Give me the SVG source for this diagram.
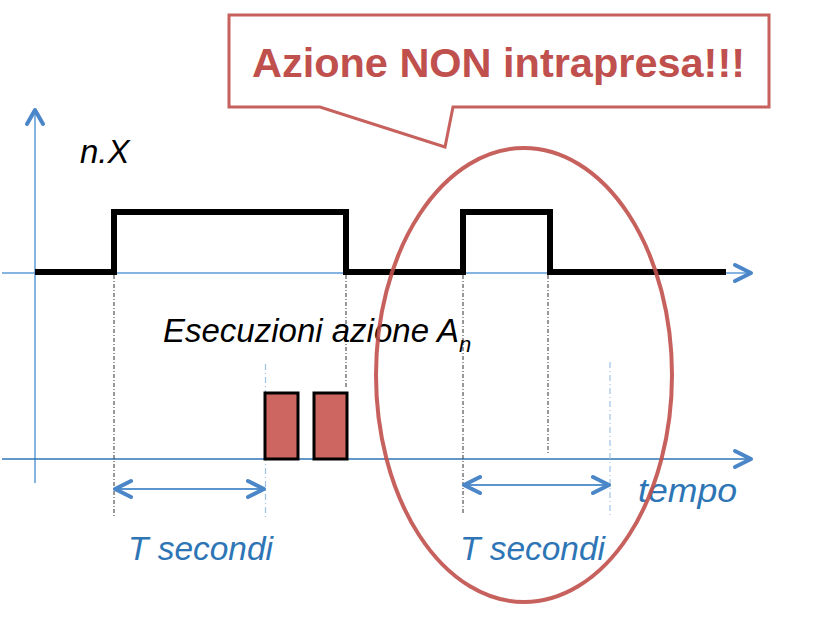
<svg xmlns="http://www.w3.org/2000/svg" width="819" height="630" viewBox="0 0 819 630">
<style>
.ax{fill:none;stroke:#5B9BD5;stroke-width:1.5}
.axd{fill:none;stroke:#2E75B6;stroke-width:1.5}
.chev{fill:none;stroke:#4A86C8;stroke-width:4;stroke-linecap:round;stroke-linejoin:round}
.dim{fill:none;stroke:#5B95CF;stroke-width:2}
.dot{fill:none;stroke:#333;stroke-width:1;stroke-dasharray:4 2 1 2}
.bdot{fill:none;stroke:#9DC3E6;stroke-width:1.2;stroke-dasharray:6 3 1 3}
.sig{fill:none;stroke:#000;stroke-width:6;stroke-linejoin:miter}
.box{fill:#CD6660;stroke:#000;stroke-width:3}
.it{font-family:"Liberation Sans",Arial,sans-serif;font-style:italic;font-size:33px}
.blue{fill:#2E75B6}
</style>
<rect width="819" height="630" fill="#fff"/>
<g id="axes">
<line class="ax" x1="35" y1="110" x2="35" y2="483"/>
<path class="chev" d="M27,124 L35,110 L43,124"/>
<line class="ax" x1="2" y1="273" x2="750" y2="273"/>
<path class="chev" d="M735,265 L751,273 L735,281"/>
<line class="axd" x1="2" y1="459" x2="750" y2="459"/>
<path class="chev" d="M735,451 L751,459 L735,467"/>
</g>
<g id="guides">
<line class="dot" x1="114" y1="275" x2="114" y2="517"/>
<line class="dot" x1="346" y1="275" x2="346" y2="388"/>
<line class="dot" x1="463" y1="275" x2="463" y2="514"/>
<line class="dot" x1="548" y1="275" x2="548" y2="455"/>
<line class="bdot" x1="265.5" y1="364" x2="265.5" y2="518"/>
<line class="bdot" x1="610" y1="362" x2="610" y2="515"/>
</g>
<g id="signal">
<path class="sig" d="M35,272 H114 V212 H346 V272 H463 V212 H550 V272 H726"/>
</g>
<g id="executions">
<rect id="exec1" class="box" x="265" y="393" width="33" height="66"/>
<rect id="exec2" class="box" x="314" y="393" width="33" height="66"/>
</g>
<g id="connectors">
<line class="dim" x1="116" y1="489" x2="263" y2="489"/>
<path class="chev" d="M131,481 L115,489 L131,497 M248,481 L264,489 L248,497"/>
<line class="dim" x1="465" y1="485" x2="608" y2="485"/>
<path class="chev" d="M480,477 L464,485 L480,493 M593,477 L609,485 L593,493"/>
</g>
<g id="labels">
<text class="it" x="80" y="163" fill="#000">n.X</text>
<text class="it" x="163" y="342" fill="#000">Esecuzioni azione A<tspan font-size="22" dy="10">n</tspan></text>
<text class="it blue" x="128" y="560" textLength="145" lengthAdjust="spacingAndGlyphs">T secondi</text>
<text class="it blue" x="460" y="560" textLength="145" lengthAdjust="spacingAndGlyphs">T secondi</text>
<text class="it blue" x="638" y="502" textLength="99" lengthAdjust="spacingAndGlyphs">tempo</text>
</g>
<g id="highlight">
<ellipse cx="524" cy="375" rx="148" ry="227" fill="none" stroke="#C0504D" stroke-width="4" opacity="0.9"/>
</g>
<g id="callout">
<path d="M229,15 H769 V107 H453 L445,147 L320,107 H229 Z" fill="#fff" stroke="#C0504D" stroke-width="3" opacity="0.9"/>
<text x="252" y="77" font-family="'Liberation Sans',Arial,sans-serif" font-weight="bold" font-size="41" fill="#C0504D" textLength="493" lengthAdjust="spacingAndGlyphs">Azione NON intrapresa!!!</text>
</g>
</svg>
